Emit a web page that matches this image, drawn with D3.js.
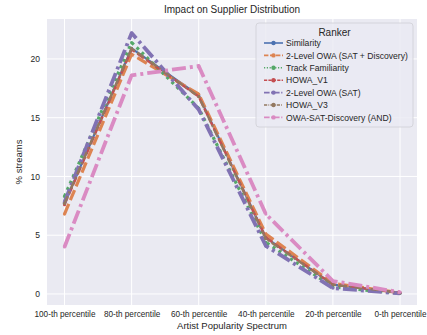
<!DOCTYPE html>
<html><head><meta charset="utf-8">
<script src="https://cdn.jsdelivr.net/npm/d3@7"></script>
<style>body{margin:0;background:#fff}svg{display:block;font-family:"Liberation Sans",Arial,sans-serif}</style>
</head><body><svg id="c" width="427" height="335"></svg>
<script>
const categories = ["100-th percentile","80-th percentile","60-th percentile","40-th percentile","20-th percentile","0-th percentile"];
const similarity = [7.7, 20.9, 16.9, 4.8, 0.8, 0.1];
const owa2SatDisc = [6.8, 20.4, 17.0, 5.1, 0.9, 0.1];
const trackFamiliarity = [8.3, 21.4, 15.8, 4.4, 0.6, 0.05];
const howaV1 = [7.6, 20.8, 16.8, 4.8, 0.8, 0.1];
const owa2Sat = [7.8, 22.2, 15.7, 4.1, 0.5, 0.05];
const howaV3 = [7.7, 20.9, 16.8, 4.7, 0.8, 0.1];
const owaSatDiscAnd = [4.0, 18.6, 19.4, 6.8, 1.1, 0.15];
const seriesNames = ["Similarity","2-Level OWA (SAT + Discovery)","Track Familiarity","HOWA_V1","2-Level OWA (SAT)","HOWA_V3","OWA-SAT-Discovery (AND)"];
const yTicks = [0,5,10,15,20];

const styles = [
  {color:"#4C72B0", w:2.2, dash:null},
  {color:"#DD8452", w:3.2, dash:"11,4"},
  {color:"#55A868", w:3.2, dash:"3,4"},
  {color:"#C44E52", w:2.4, dash:"8,3"},
  {color:"#8172B3", w:3.8, dash:"14,4,3,4"},
  {color:"#937860", w:2.4, dash:"8,3,2,3"},
  {color:"#DA8BC3", w:3.8, dash:"14,4,3,4"}
];
const allSeries = [similarity, owa2SatDisc, trackFamiliarity, howaV1, owa2Sat, howaV3, owaSatDiscAnd];

const svg = d3.select("#c");
const L=47, R=417, T=19, B=305;
const x = d3.scalePoint().domain(categories).range([64.5, 400]);
const y = d3.scaleLinear().domain([-0.94, 23.4]).range([B, T]);

svg.append("rect").attr("x",L).attr("y",T).attr("width",R-L).attr("height",B-T).attr("fill","#EAEAF2");
const g = svg.append("g");
g.selectAll("line.gx").data(categories).enter().append("line")
  .attr("x1",d=>x(d)).attr("x2",d=>x(d)).attr("y1",T).attr("y2",B).attr("stroke","#fff").attr("stroke-width",1);
g.selectAll("line.gy").data(yTicks).enter().append("line")
  .attr("x1",L).attr("x2",R).attr("y1",d=>y(d)).attr("y2",d=>y(d)).attr("stroke","#fff").attr("stroke-width",1);

const xAxis = svg.append("g").attr("transform",`translate(0,${B})`).call(d3.axisBottom(x).tickSize(0).tickPadding(6));
xAxis.select(".domain").remove();
xAxis.selectAll("text").attr("font-size",8.2).attr("fill","#262626").attr("font-family","Liberation Sans, Arial, sans-serif");
const yAxis = svg.append("g").attr("transform",`translate(${L},0)`).call(d3.axisLeft(y).tickValues(yTicks).tickSize(0).tickPadding(7));
yAxis.select(".domain").remove();
yAxis.selectAll("text").attr("font-size",8.5).attr("fill","#262626").attr("font-family","Liberation Sans, Arial, sans-serif");

const line = d3.line().x((d,i)=>x(categories[i])).y(d=>y(d));
allSeries.forEach((s,k)=>{
  const st = styles[k];
  svg.append("path").datum(s).attr("d",line).attr("fill","none")
    .attr("stroke",st.color).attr("stroke-width",st.w)
    .attr("stroke-dasharray",st.dash).attr("stroke-linejoin","round");
  svg.selectAll(null).data(s).enter().append("circle")
    .attr("cx",(d,i)=>x(categories[i])).attr("cy",d=>y(d)).attr("r",1.6).attr("fill",st.color);
});

svg.append("text").attr("x",(L+R)/2).attr("y",13).attr("text-anchor","middle").attr("font-size",10).attr("fill","#262626").text("Impact on Supplier Distribution");
svg.append("text").attr("x",(L+R)/2).attr("y",329).attr("text-anchor","middle").attr("font-size",9.5).attr("fill","#262626").text("Artist Popularity Spectrum");
svg.append("text").attr("transform",`translate(22,${(T+B)/2}) rotate(-90)`).attr("text-anchor","middle").attr("font-size",9.5).attr("fill","#262626").text("% streams");

// legend
const lg = svg.append("g");
lg.append("rect").attr("x",256).attr("y",23).attr("width",157).attr("height",104).attr("rx",3)
  .attr("fill","#EAEAF2").attr("fill-opacity",0.8).attr("stroke","#cfcfd6").attr("stroke-width",0.8);
lg.append("text").attr("x",334.5).attr("y",36).attr("text-anchor","middle").attr("font-size",10).attr("fill","#262626").text("Ranker");
seriesNames.forEach((n,k)=>{
  const st = styles[k];
  const yy = 43 + k*12.4;
  lg.append("line").attr("x1",264).attr("x2",283).attr("y1",yy).attr("y2",yy)
    .attr("stroke",st.color).attr("stroke-width",Math.min(st.w,1.6)).attr("stroke-dasharray",st.dash ? st.dash.split(",").map(v=>v*0.4).join(",") : null);
  lg.append("circle").attr("cx",273.5).attr("cy",yy).attr("r",2.2).attr("fill",st.color);
  lg.append("text").attr("x",286).attr("y",yy+3.2).attr("font-size",8.6).attr("fill","#262626").text(n);
});
</script></body></html>
